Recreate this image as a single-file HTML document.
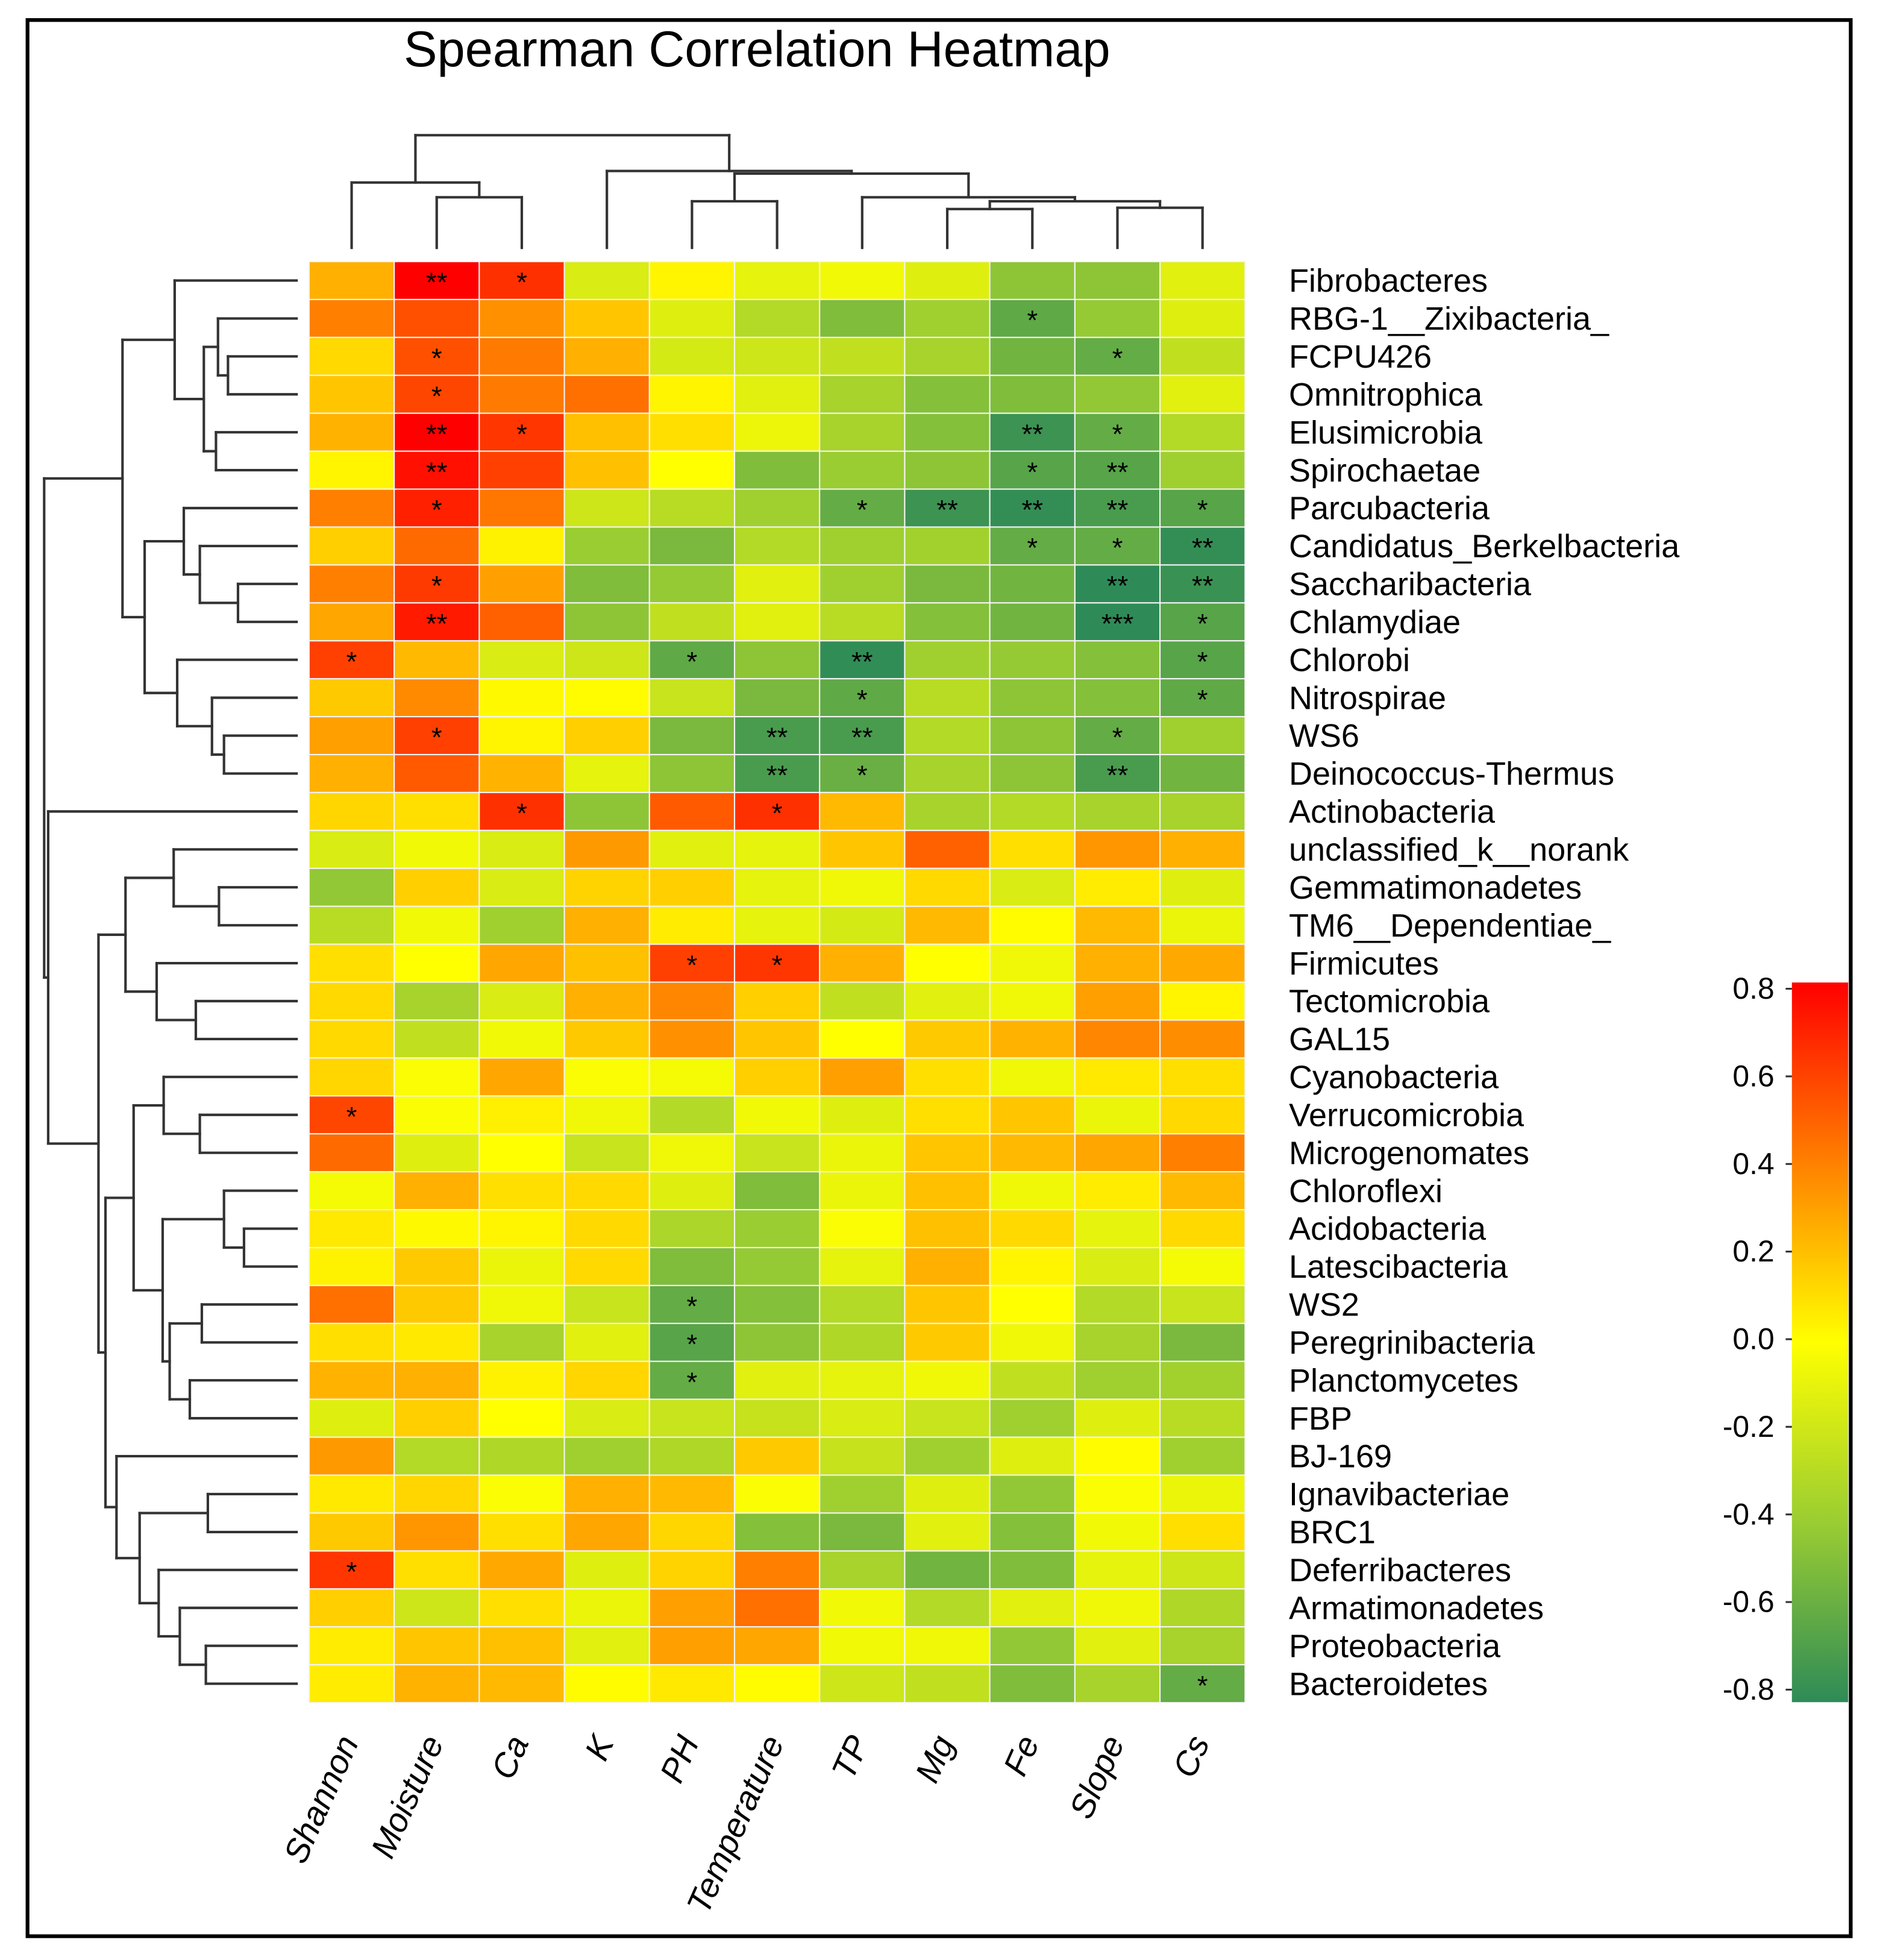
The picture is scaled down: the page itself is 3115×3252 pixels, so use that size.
<!DOCTYPE html>
<html>
<head>
<meta charset="utf-8">
<style>
  html, body { margin: 0; padding: 0; background: #fff; }
  svg { display: block; }
  text { font-family: "Liberation Sans", Arial, sans-serif; }
</style>
</head>
<body>
<svg id="chart" xmlns="http://www.w3.org/2000/svg" width="3115" height="3252" viewBox="0 0 1500 1566" preserveAspectRatio="none">
  <rect x="0" y="0" width="1500" height="1566" fill="#fff"/>
  <rect x="22" y="16" width="1457" height="1531" fill="none" stroke="#000" stroke-width="3"/>
  <text x="605" y="53" font-size="40" text-anchor="middle" fill="#000">Spearman Correlation Heatmap</text>
  <g id="dendro"></g>
  <g id="cells"></g>
  <g id="rowlabels"></g>
  <g id="collabels"></g>
  <g id="legend"></g>
</svg>
<script>
const columns = ["Shannon","Moisture","Ca","K","PH","Temperature","TP","Mg","Fe","Slope","Cs"];
const rows = ["Fibrobacteres","RBG-1__Zixibacteria_","FCPU426","Omnitrophica","Elusimicrobia","Spirochaetae","Parcubacteria","Candidatus_Berkelbacteria","Saccharibacteria","Chlamydiae","Chlorobi","Nitrospirae","WS6","Deinococcus-Thermus","Actinobacteria","unclassified_k__norank","Gemmatimonadetes","TM6__Dependentiae_","Firmicutes","Tectomicrobia","GAL15","Cyanobacteria","Verrucomicrobia","Microgenomates","Chloroflexi","Acidobacteria","Latescibacteria","WS2","Peregrinibacteria","Planctomycetes","FBP","BJ-169","Ignavibacteriae","BRC1","Deferribacteres","Armatimonadetes","Proteobacteria","Bacteroidetes"];
const values = [
[0.25,0.8,0.65,-0.15,0.03,-0.1,-0.05,-0.13,-0.45,-0.45,-0.12],
[0.4,0.55,0.35,0.18,-0.13,-0.3,-0.5,-0.38,-0.62,-0.42,-0.13],
[0.12,0.55,0.42,0.25,-0.17,-0.2,-0.25,-0.35,-0.55,-0.6,-0.25],
[0.18,0.58,0.42,0.45,0.03,-0.12,-0.35,-0.48,-0.5,-0.43,-0.12],
[0.24,0.8,0.63,0.2,0.1,-0.07,-0.35,-0.48,-0.75,-0.6,-0.3],
[0.03,0.75,0.6,0.2,0,-0.5,-0.4,-0.45,-0.65,-0.65,-0.38],
[0.4,0.7,0.43,-0.2,-0.28,-0.38,-0.6,-0.75,-0.78,-0.7,-0.65],
[0.15,0.47,0.04,-0.4,-0.52,-0.3,-0.38,-0.37,-0.6,-0.6,-0.78],
[0.4,0.62,0.3,-0.5,-0.42,-0.12,-0.38,-0.52,-0.55,-0.8,-0.76],
[0.28,0.72,0.5,-0.45,-0.25,-0.12,-0.28,-0.48,-0.55,-0.8,-0.65],
[0.6,0.22,-0.15,-0.2,-0.62,-0.45,-0.79,-0.38,-0.42,-0.48,-0.65],
[0.17,0.37,0.02,0.01,-0.22,-0.52,-0.62,-0.28,-0.45,-0.48,-0.62],
[0.3,0.6,0.03,0.15,-0.52,-0.7,-0.7,-0.3,-0.45,-0.6,-0.38],
[0.25,0.52,0.24,-0.1,-0.45,-0.7,-0.58,-0.35,-0.45,-0.7,-0.55],
[0.13,0.1,0.65,-0.45,0.52,0.65,0.22,-0.35,-0.3,-0.35,-0.35],
[-0.15,-0.05,-0.15,0.32,-0.12,-0.1,0.18,0.5,0.1,0.33,0.25],
[-0.43,0.15,-0.15,0.14,0.15,-0.1,-0.06,0.12,-0.15,0.06,-0.13],
[-0.28,-0.05,-0.38,0.25,0.06,-0.1,-0.17,0.22,0.01,0.22,-0.08],
[0.1,0,0.28,0.2,0.6,0.63,0.25,0,-0.06,0.25,0.27],
[0.12,-0.35,-0.15,0.25,0.38,0.15,-0.25,-0.12,-0.06,0.3,0.03],
[0.12,-0.25,-0.05,0.17,0.35,0.18,0,0.17,0.24,0.38,0.36],
[0.13,-0.02,0.28,-0.02,-0.04,0.15,0.3,0.1,-0.06,0.07,0.1],
[0.58,-0.02,0.05,-0.06,-0.3,-0.05,-0.13,0.1,0.18,-0.08,0.12],
[0.47,-0.13,0,-0.22,-0.06,-0.22,-0.08,0.18,0.22,0.28,0.4],
[-0.04,0.25,0.1,0.12,-0.13,-0.5,-0.08,0.2,-0.06,0.06,0.22],
[0.07,0.02,0.03,0.12,-0.33,-0.4,-0.02,0.2,0.12,-0.1,0.12],
[0.04,0.17,-0.08,0.12,-0.5,-0.42,-0.1,0.25,0.03,-0.15,-0.04],
[0.45,0.17,-0.06,-0.22,-0.6,-0.48,-0.3,0.18,0,-0.3,-0.22],
[0.1,0.07,-0.35,-0.12,-0.65,-0.45,-0.32,0.17,-0.06,-0.35,-0.52],
[0.24,0.25,0.04,0.13,-0.6,-0.12,-0.1,-0.06,-0.25,-0.38,-0.37],
[-0.13,0.15,0,-0.15,-0.22,-0.23,-0.15,-0.22,-0.38,-0.13,-0.28],
[0.32,-0.3,-0.32,-0.38,-0.32,0.17,-0.23,-0.38,-0.13,0.01,-0.38],
[0.07,0.13,-0.02,0.25,0.22,-0.02,-0.38,-0.13,-0.43,-0.02,-0.08],
[0.17,0.33,0.1,0.28,0.13,-0.48,-0.52,-0.12,-0.48,-0.05,0.1],
[0.63,0.1,0.27,-0.13,0.14,0.4,-0.35,-0.55,-0.5,-0.1,-0.2],
[0.15,-0.2,0.1,-0.08,0.3,0.45,-0.05,-0.3,-0.12,-0.06,-0.32],
[0.06,0.18,0.2,-0.12,0.3,0.28,-0.05,-0.06,-0.43,-0.12,-0.35],
[0.06,0.24,0.22,0.01,0.07,0.01,-0.2,-0.25,-0.5,-0.35,-0.6]
];
const starRows = [0,0,1,2,2,3,4,4,4,4,5,5,5,6,6,6,6,6,6,7,7,7,8,8,8,9,9,9,10,10,10,10,11,11,12,12,12,12,13,13,13,14,14,18,18,22,27,28,29,34,37];
const starCols = [1,2,8,1,9,1,1,2,8,9,1,8,9,1,6,7,8,9,10,8,9,10,1,9,10,1,9,10,0,4,6,10,6,10,1,5,6,9,5,6,9,2,5,4,5,0,4,4,4,0,10];
const starText = ["**","*","*","*","*","*","**","*","**","*","**","*","**","*","*","**","**","**","*","*","*","**","*","**","**","**","***","*","*","*","**","*","*","*","*","**","**","*","**","*","**","*","*","*","*","*","*","*","*","*","*"];
const legendTicks = [0.8,0.6,0.4,0.2,0.0,-0.2,-0.4,-0.6,-0.8];
const legendTickLabels = ["0.8","0.6","0.4","0.2","0.0","-0.2","-0.4","-0.6","-0.8"];

const NS = "http://www.w3.org/2000/svg";
const X0 = 247, Y0 = 209, CW = 68, RH = 30.3;
function xCol(i){ return X0 + CW * i; }
function yRow(i){ return Y0 + RH * i; }
const stops = [[-0.8,[46,139,87]],[-0.4,[154,205,50]],[0,[255,255,0]],[0.4,[255,128,0]],[0.8,[255,0,0]]];
function color(v){
  v = Math.max(-0.8, Math.min(0.8, v));
  for (let k = 0; k < stops.length - 1; k++) {
    const a = stops[k], b = stops[k+1];
    if (v <= b[0]) {
      const t = (v - a[0]) / (b[0] - a[0]);
      const c = a[1].map((q, j) => Math.round(q + (b[1][j] - q) * t));
      return "rgb(" + c.join(",") + ")";
    }
  }
  return "rgb(255,0,0)";
}
function mk(tag, attrs, parent){
  const e = document.createElementNS(NS, tag);
  for (const k in attrs) e.setAttribute(k, attrs[k]);
  parent.appendChild(e);
  return e;
}

// cells
const cells = document.getElementById("cells");
values.forEach((row, r) => {
  row.forEach((v, c) => {
    const el = mk("rect", {x: xCol(c), y: yRow(r), width: CW, height: RH, fill: color(v), stroke: "#f4f4f4", "stroke-width": 1}, cells);
    
    
  });
});
starRows.forEach((r, k) => {
  const c = starCols[k];
  const t = mk("text", {x: xCol(c) + CW/2, y: yRow(r) + RH/2 + 9, "font-size": 22, "text-anchor": "middle", fill: "#000"}, cells);
  t.textContent = starText[k];
  
  
});

// row labels
const rl = document.getElementById("rowlabels");
rows.forEach((name, r) => {
  const t = mk("text", {x: 1030, y: yRow(r) + RH/2 + 9, "font-size": 26, fill: "#000"}, rl);
  t.textContent = name;
  
  
});

// column labels
const cl = document.getElementById("collabels");
columns.forEach((name, c) => {
  const cx = xCol(c) + CW/2 + 6, cy = 1392;
  const t = mk("text", {x: cx, y: cy, "font-size": 27, "text-anchor": "end", transform: "rotate(-66 " + cx + " " + cy + ")", fill: "#000", "font-style": "italic"}, cl);
  t.textContent = name;
  
  
});

// dendrograms
const dg = document.getElementById("dendro");
function line(x1, y1, x2, y2){
  const l = mk("line", {x1, y1, x2, y2, stroke: "#333", "stroke-width": 2, "stroke-linecap": "square"}, dg);
  
  
}
const rowTree = [35.3,
  [97.9, [139.6, 0, [162.9, [174.2, 1, [182.2, 2, 3]], [172.6, 4, 5]]],
         [115.6, [146.9, 6, [159.7, 7, [190.2, 8, 9]]], [141.6, 10, [169.4, 11, [179, 12, 13]]]]],
  [38.5, 14, [78.7,
      [100.3, [138.8, 15, [175, 16, 17]], [125.2, 18, [156.5, 19, 20]]],
      [84.3,
        [106.8, [130.8, 21, [159.7, 22, 23]], [130, [179, 24, [195, 25, 26]], [135.6, [161.3, 27, 28], [151.7, 29, 30]]]],
        [93.1, 31, [111.6, [166.1, 32, 33], [126.8, 34, [143.7, 35, [164.5, 36, 37]]]]]]]]];
const colTree = [108, [145.8, 0, [157.6, 1, 2]], [136.6, 3, [138.7, [160.8, 4, 5], [157.6, 6, [160.8, [167, 7, 8], [166, 9, 10]]]]]];
function drawRow(n){
  if (typeof n === "number") return {p: yRow(n) + RH/2, h: 237};
  const a = drawRow(n[1]), b = drawRow(n[2]);
  line(n[0], a.p, a.h, a.p);
  line(n[0], b.p, b.h, b.p);
  line(n[0], a.p, n[0], b.p);
  return {p: (a.p + b.p)/2, h: n[0]};
}
function drawCol(n){
  if (typeof n === "number") return {p: xCol(n) + CW/2, h: 198};
  const a = drawCol(n[1]), b = drawCol(n[2]);
  line(a.p, n[0], a.p, a.h);
  line(b.p, n[0], b.p, b.h);
  line(a.p, n[0], b.p, n[0]);
  return {p: (a.p + b.p)/2, h: n[0]};
}
drawRow(rowTree);
drawCol(colTree);

// legend
const lg = document.getElementById("legend");
const defs = mk("defs", {}, lg);
const grad = mk("linearGradient", {id: "lgGrad", x1: 0, y1: 1, x2: 0, y2: 0}, defs);
stops.forEach(s => {
  mk("stop", {offset: ((s[0] + 0.8) / 1.6 * 100) + "%", "stop-color": "rgb(" + s[1].join(",") + ")"}, grad);
});
function yLeg(v){ return 1070 - v * 350; }
const bar = mk("rect", {x: 1432, y: 785, width: 45, height: 575, fill: "url(#lgGrad)"}, lg);


legendTicks.forEach((v, k) => {
  const y = yLeg(v);
  const tk = mk("line", {x1: 1427, y1: y, x2: 1432, y2: y, stroke: "#333", "stroke-width": 1.5}, lg);
  
  
  const t = mk("text", {x: 1418, y: y + 8, "font-size": 24, "text-anchor": "end", fill: "#000"}, lg);
  t.textContent = legendTickLabels[k];
  
  
});
</script>
</body>
</html>
